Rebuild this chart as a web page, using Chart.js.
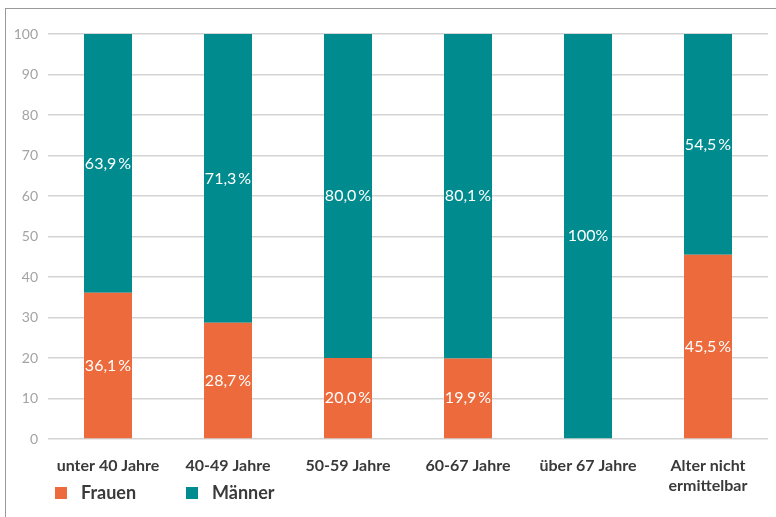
<!DOCTYPE html>
<html>
<head>
<meta charset="utf-8">
<script src="https://cdn.jsdelivr.net/npm/chart.js@4"></script>
<style>
  body { margin: 0; background: #fff; }
  #frame {
    position: absolute; left: 5px; top: 8px; width: 771px; height: 509px;
    border-left: 1px solid #9a9a9a; border-top: 1px solid #9a9a9a;
  }
  #wrap { position: absolute; left: 1px; top: 1px; width: 770px; height: 508px; }
</style>
</head>
<body>
<div id="frame"><div id="wrap"><canvas id="chart"></canvas></div></div>
<script>
// categories
const categories = [
  "unter 40 Jahre",
  "40-49 Jahre",
  "50-59 Jahre",
  "60-67 Jahre",
  "über 67 Jahre",
  ["Alter nicht", "ermittelbar"]
];
// shares in percent
const frauen = [36.1, 28.7, 20.0, 19.9, 0, 45.5];
const maenner = [63.9, 71.3, 80.0, 80.1, 100, 54.5];
const yTicks = [0, 10, 20, 30, 40, 50, 60, 70, 80, 90, 100];

const orange = "#EC6A3B";
const teal = "#008B8F";
const fontFamily = "Lato, 'Open Sans', sans-serif";

//format like 63,9 % (100 without decimals)
const fmt = (v) => v === 100 ? "100%" : v.toFixed(1).replace(".", ",") + "\u2009%";

//draws the percent labels in the middle of each segment
const segmentLabels = {
  id: "segmentLabels",
  afterDatasetsDraw(chart) {
    const ctx = chart.ctx;
    ctx.save();
    ctx.fillStyle = "#ffffff";
    ctx.font = "16px " + fontFamily;
    ctx.textAlign = "center";
    ctx.textBaseline = "middle";
    chart.data.datasets.forEach((ds, i) => {
      const meta = chart.getDatasetMeta(i);
      meta.data.forEach((bar, j) => {
        const v = ds.data[j];
        if (!v) return;
        const y = (bar.y + bar.base) / 2;
        ctx.fillText(fmt(v), bar.x, y);
      });
    });
    ctx.restore();
  }
};

//legend under the first categories
const bottomLegend = {
  id: "bottomLegend",
  afterDraw(chart) {
    const ctx = chart.ctx;
    const items = [{ x: 48, ds: 0 }, { x: 179, ds: 1 }];
    ctx.save();
    ctx.font = "bold 18px " + fontFamily;
    ctx.textBaseline = "middle";
    items.forEach((it) => {
      const ds = chart.data.datasets[it.ds];
      ctx.fillStyle = ds.backgroundColor;
      ctx.fillRect(it.x, 477, 12, 12);
      ctx.fillStyle = "#3a3a3a";
      ctx.fillText(ds.label, it.x + 26, 483);
    });
    ctx.restore();
  }
};

new Chart(document.getElementById("chart"), {
  type: "bar",
  plugins: [segmentLabels, bottomLegend],
  data: {
    labels: categories,
    datasets: [
      { label: "Frauen", data: frauen, backgroundColor: orange },
      { label: "Männer", data: maenner, backgroundColor: teal }
    ]
  },
  options: {
    responsive: true,
    maintainAspectRatio: false,
    animation: false,
    categoryPercentage: 0.8,
    barPercentage: 0.5,
    layout: { padding: { top: 24, right: 9, bottom: 0, left: 0 } },
    plugins: {
      legend: { display: false },
      tooltip: { enabled: false }
    },
    scales: {
      x: {
        stacked: true,
        grid: { display: false },
        border: { display: false },
        ticks: {
          color: "#3a3a3a",
          font: { family: fontFamily, size: 16, weight: "bold", lineHeight: 1.3 },
          padding: 8,
          maxRotation: 0
        },
        afterFit: (scale) => { scale.height = 79; }
      },
      y: {
        stacked: true,
        min: 0,
        max: 100,
        afterBuildTicks: (scale) => { scale.ticks = yTicks.map((v) => ({ value: v })); },
        grid: { color: "#d4d4d4", lineWidth: 1.5, drawTicks: false },
        border: { display: false },
        ticks: {
          color: "#a3a3a3",
          font: { family: fontFamily, size: 14 },
          padding: 10
        },
        afterFit: (scale) => { scale.width = 41; }
      }
    }
  }
});
</script>
</body>
</html>
